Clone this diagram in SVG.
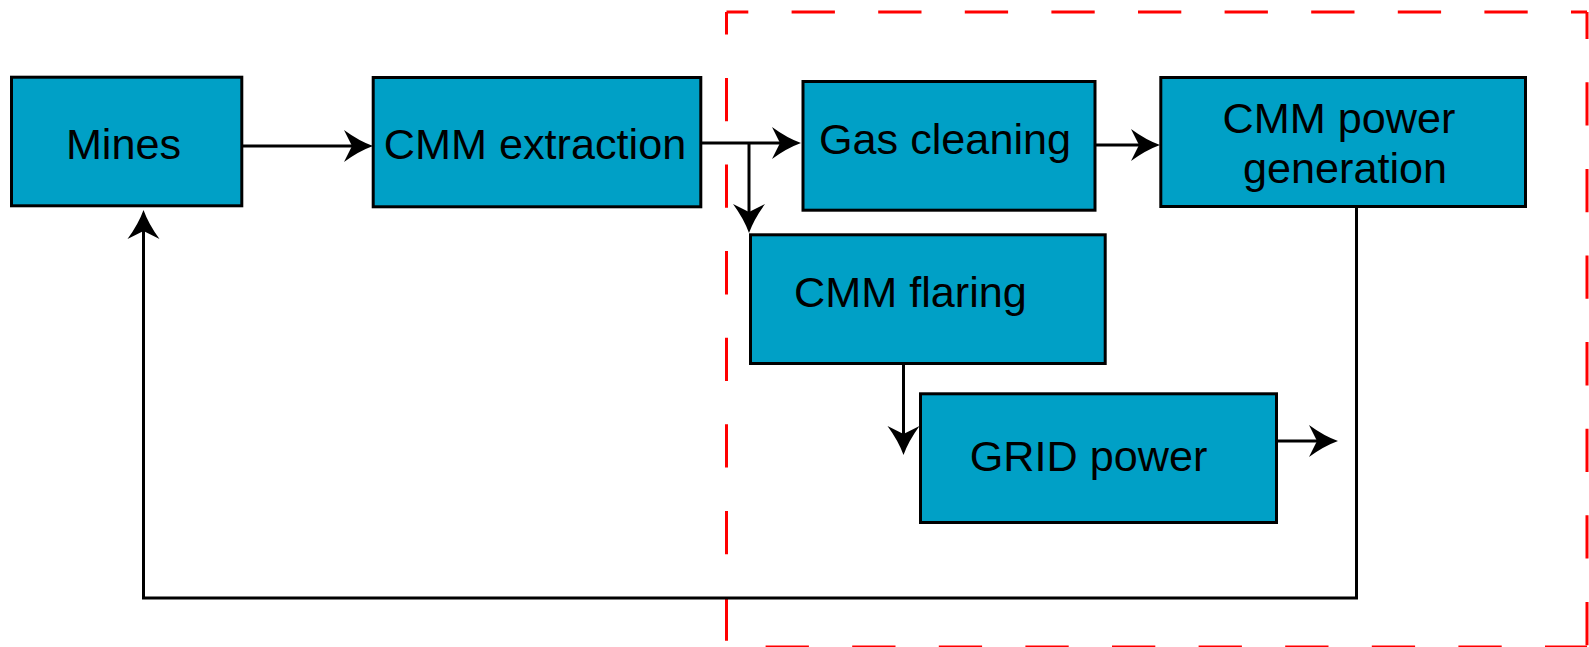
<svg xmlns="http://www.w3.org/2000/svg" width="1589" height="647" viewBox="0 0 1589 647">
  <style>
    .box { fill: #00A0C6; stroke: #000; stroke-width: 3; }
    .lbl { font-family: "Liberation Sans", Arial, sans-serif; font-size: 43.2px; fill: #000; text-anchor: middle; }
    .wire { fill: none; stroke: #000; stroke-width: 3; }
    .arrow { marker-end: url(#head); }
    .bound { fill: none; stroke: #FF0000; stroke-width: 3; stroke-dasharray: 43.3 43.3; }
  </style>
  <defs>
    <!-- arrowhead with concave flanks; tip sits 10 units past the line end -->
    <marker id="head" markerUnits="userSpaceOnUse" orient="auto" refX="0" refY="0" markerWidth="40" markerHeight="40" overflow="visible">
      <path d="M10,0 Q-4,-5 -19,-16 L-11,0 L-19,16 Q-4,5 10,0 Z" fill="#000"/>
    </marker>
  </defs>

  <!-- system boundary (dashed) -->
  <g id="boundary">
    <line class="bound" x1="726.5" y1="12" x2="1587" y2="12" stroke-dashoffset="21.5"/>
    <line class="bound" x1="1587" y1="12" x2="1587" y2="647" stroke-dashoffset="16.3"/>
    <line class="bound" x1="1587" y1="647" x2="726.5" y2="647" stroke-dashoffset="1.3"/>
    <line class="bound" x1="726.5" y1="12" x2="726.5" y2="647" stroke-dashoffset="20.7"/>
  </g>

  <!-- connectors -->
  <g id="connectors">
    <line class="wire arrow" x1="243" y1="146" x2="363" y2="146"/>
    <line class="wire arrow" x1="702" y1="143" x2="791" y2="143"/>
    <line class="wire arrow" x1="749" y1="143" x2="749" y2="223"/>
    <line class="wire arrow" x1="1096" y1="145" x2="1150" y2="145"/>
    <line class="wire arrow" x1="903.5" y1="365" x2="903.5" y2="445"/>
    <line class="wire arrow" x1="1278" y1="441" x2="1328" y2="441"/>
    <polyline class="wire arrow" points="1356.5,208 1356.5,598 143.5,598 143.5,220"/>
  </g>

  <!-- process nodes -->
  <g id="mines">
    <rect class="box" x="11.5" y="77.2" width="230.3" height="128.6"/>
    <text class="lbl" x="123.5" y="159">Mines</text>
  </g>
  <g id="cmm-extraction">
    <rect class="box" x="373.2" y="77.5" width="327.6" height="129.3"/>
    <text class="lbl" x="535" y="159">CMM extraction</text>
  </g>
  <g id="gas-cleaning">
    <rect class="box" x="803" y="81.5" width="292" height="128.7"/>
    <text class="lbl" x="945" y="154">Gas cleaning</text>
  </g>
  <g id="cmm-power-generation">
    <rect class="box" x="1160.8" y="77.5" width="364.7" height="129"/>
    <text class="lbl"><tspan x="1339" y="133">CMM power</tspan><tspan x="1345" y="183">generation</tspan></text>
  </g>
  <g id="cmm-flaring">
    <rect class="box" x="750.5" y="234.8" width="354.7" height="128.7"/>
    <text class="lbl" x="910.5" y="307">CMM flaring</text>
  </g>
  <g id="grid-power">
    <rect class="box" x="920.5" y="393.8" width="356" height="128.7"/>
    <text class="lbl" x="1088.5" y="471">GRID power</text>
  </g>
</svg>
